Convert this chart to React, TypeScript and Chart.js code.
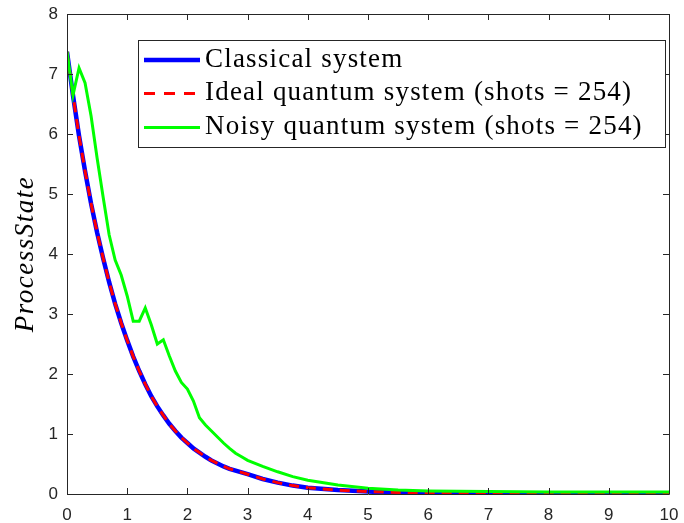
import React, { useEffect, useRef } from "react";
import { Chart, registerables } from "chart.js";

Chart.register(...registerables);

const xValues = [
  0, 0.1, 0.2, 0.3, 0.4, 0.5, 0.6, 0.7, 0.8, 0.9,
  1.0, 1.1, 1.2, 1.3, 1.4, 1.5, 1.6, 1.7, 1.8, 1.9,
  2.0, 2.1, 2.2, 2.3, 2.4, 2.5, 2.6, 2.7, 2.8, 2.9,
  3.0, 3.25, 3.5, 3.75, 4.0, 4.5, 5.0, 5.5, 6, 7, 8, 9, 10,
];

const classical = [
  7.37, 6.64, 5.97, 5.38, 4.84, 4.36, 3.93, 3.53, 3.17, 2.85,
  2.56, 2.29, 2.05, 1.83, 1.63, 1.46, 1.31, 1.17, 1.05, 0.94,
  0.85, 0.76, 0.69, 0.62, 0.56, 0.51, 0.46, 0.42, 0.39, 0.36,
  0.33, 0.25, 0.19, 0.14, 0.105, 0.065, 0.04, 0.025, 0.015, 0.007, 0.004, 0.002, 0.001,
];

const idealQuantum = [
  7.37, 6.64, 5.97, 5.38, 4.84, 4.36, 3.93, 3.53, 3.17, 2.85,
  2.56, 2.29, 2.05, 1.83, 1.63, 1.46, 1.31, 1.17, 1.05, 0.94,
  0.85, 0.76, 0.69, 0.62, 0.56, 0.51, 0.46, 0.42, 0.39, 0.36,
  0.33, 0.25, 0.19, 0.14, 0.105, 0.065, 0.04, 0.025, 0.015, 0.007, 0.004, 0.002, 0.001,
];

const noisyQuantum = [
  7.37, 6.65, 7.1, 6.85, 6.3, 5.6, 4.95, 4.32, 3.9, 3.65,
  3.3, 2.88, 2.88, 3.1, 2.82, 2.5, 2.57, 2.3, 2.05, 1.86,
  1.75, 1.55, 1.27, 1.15, 1.05, 0.95, 0.85, 0.76, 0.68, 0.62,
  0.56, 0.46, 0.37, 0.29, 0.23, 0.15, 0.095, 0.065, 0.05, 0.04, 0.035, 0.035, 0.035,
];

const xTicks = [0, 1, 2, 3, 4, 5, 6, 7, 8, 9, 10];
const yTicks = [0, 1, 2, 3, 4, 5, 6, 7, 8];

const legendLabels = [
  "Classical system",
  "Ideal quantum system (shots = 254)",
  "Noisy quantum system (shots = 254)",
];

const yTitle = "ProcessState";

const AXIS_COLOR = "#262626";

const frameAndTicks = {
  id: "frameAndTicks",
  afterDatasetsDraw(chart: any) {
    const { ctx, chartArea, scales } = chart;
    const { left, right, top, bottom } = chartArea;
    ctx.save();
    ctx.strokeStyle = AXIS_COLOR;
    ctx.lineWidth = 1;
    ctx.beginPath();
    ctx.rect(Math.round(left) + 0.5, Math.round(top) + 0.5, Math.round(right - left), Math.round(bottom - top));
    ctx.stroke();
    const tl = 6;
    ctx.beginPath();
    for (const v of xTicks) {
      const px = Math.round(scales.x.getPixelForValue(v)) + 0.5;
      ctx.moveTo(px, bottom);
      ctx.lineTo(px, bottom - tl);
      ctx.moveTo(px, top);
      ctx.lineTo(px, top + tl);
    }
    for (const v of yTicks) {
      const py = Math.round(scales.y.getPixelForValue(v)) + 0.5;
      ctx.moveTo(left, py);
      ctx.lineTo(left + tl, py);
      ctx.moveTo(right, py);
      ctx.lineTo(right - tl, py);
    }
    ctx.stroke();
    ctx.restore();
  },
};

const yTitlePlugin = {
  id: "yTitle",
  afterDraw(chart: any) {
    const { ctx, chartArea } = chart;
    ctx.save();
    ctx.translate(26, (chartArea.top + chartArea.bottom) / 2);
    ctx.rotate(-Math.PI / 2);
    ctx.fillStyle = "#000000";
    ctx.font = "italic 27px 'Liberation Serif'";
    (ctx as any).letterSpacing = "1.5px";
    ctx.textAlign = "center";
    ctx.textBaseline = "middle";
    ctx.fillText(yTitle, 0, 0);
    ctx.restore();
  },
};

const legendPlugin = {
  id: "customLegend",
  afterDraw(chart: any) {
    const { ctx } = chart;
    const bx = 138.5, by = 40.5, bw = 527, bh = 107;
    ctx.save();
    ctx.fillStyle = "#ffffff";
    ctx.fillRect(bx, by, bw, bh);
    ctx.strokeStyle = AXIS_COLOR;
    ctx.lineWidth = 1;
    ctx.strokeRect(bx, by, bw, bh);
    const rowY = [60, 93.5, 127.5];
    const styles = [
      { color: "#0000ff", width: 4.5, dash: [] as number[] },
      { color: "#ff0000", width: 3, dash: [11, 9] },
      { color: "#00ff00", width: 3, dash: [] as number[] },
    ];
    for (let i = 0; i < 3; i++) {
      const s = styles[i];
      ctx.beginPath();
      ctx.strokeStyle = s.color;
      ctx.lineWidth = s.width;
      ctx.setLineDash(s.dash);
      ctx.moveTo(144, rowY[i]);
      ctx.lineTo(200, rowY[i]);
      ctx.stroke();
      ctx.setLineDash([]);
      ctx.fillStyle = "#000000";
      ctx.font = "27px 'Liberation Serif'";
      (ctx as any).letterSpacing = "1.2px";
      ctx.textAlign = "left";
      ctx.textBaseline = "alphabetic";
      ctx.fillText(legendLabels[i], 205, rowY[i] + 6.7);
      (ctx as any).letterSpacing = "0px";
    }
    ctx.restore();
  },
};

export default function App() {
  const canvasRef = useRef<HTMLCanvasElement | null>(null);

  useEffect(() => {
    if (!canvasRef.current) return;
    const toPoints = (ys: number[]) => xValues.map((x, i) => ({ x, y: ys[i] }));
    const chart = new Chart(canvasRef.current, {
      type: "line",
      data: {
        datasets: [
          {
            label: legendLabels[0],
            data: toPoints(classical),
            borderColor: "#0000ff",
            borderWidth: 4.5,
            pointRadius: 0,
            tension: 0,
            order: 3,
          },
          {
            label: legendLabels[1],
            data: toPoints(idealQuantum),
            borderColor: "#ff0000",
            borderWidth: 3,
            borderDash: [10, 7],
            pointRadius: 0,
            tension: 0,
            order: 2,
          },
          {
            label: legendLabels[2],
            data: toPoints(noisyQuantum),
            borderColor: "#00ff00",
            borderWidth: 3,
            pointRadius: 0,
            tension: 0,
            order: 1,
          },
        ],
      },
      options: {
        animation: false,
        responsive: true,
        maintainAspectRatio: false,
        layout: { padding: { left: 0, right: 15, top: 14, bottom: 0 } },
        plugins: {
          legend: { display: false },
          tooltip: { enabled: false },
        },
        scales: {
          x: {
            type: "linear",
            min: 0,
            max: 10,
            grid: { display: false, drawTicks: false },
            border: { display: false },
            ticks: {
              stepSize: 1,
              padding: 11,
              color: AXIS_COLOR,
              font: { family: "'Liberation Sans', Arial, sans-serif", size: 17 },
              maxRotation: 0,
            },
            afterFit: (s: any) => {
              s.height = 29;
              s.paddingLeft = 0;
              s.paddingRight = 0;
            },
          },
          y: {
            type: "linear",
            min: 0,
            max: 8,
            grid: { display: false, drawTicks: false },
            border: { display: false },
            ticks: {
              stepSize: 1,
              padding: 9,
              color: AXIS_COLOR,
              font: { family: "'Liberation Sans', Arial, sans-serif", size: 17 },
            },
            afterFit: (s: any) => {
              s.width = 67;
              s.paddingTop = 0;
              s.paddingBottom = 0;
            },
          },
        },
      },
      plugins: [frameAndTicks, yTitlePlugin, legendPlugin],
    });
    return () => chart.destroy();
  }, []);

  return (
    <div style={{ position: "fixed", left: 0, top: 0, width: 684, height: 523, background: "#fff" }}>
      <canvas ref={canvasRef} />
    </div>
  );
}
